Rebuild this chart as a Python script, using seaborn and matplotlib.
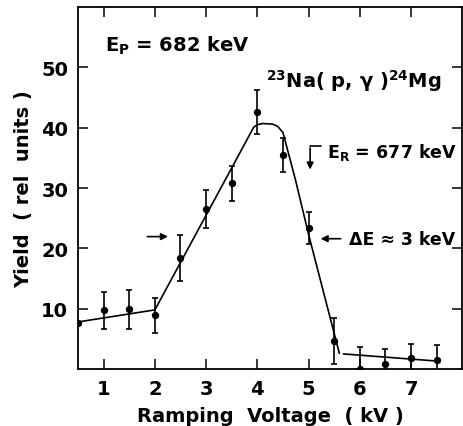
import numpy as np
import pandas as pd
import matplotlib
matplotlib.use("Agg")
import matplotlib.pyplot as plt
import seaborn as sns

# measured yield vs ramping voltage
volt = [0.5, 1.0, 1.5, 2.0, 2.5, 3.0, 3.5, 4.0, 4.5, 5.0, 5.5, 6.0, 6.5, 7.0, 7.5]
yld = [7.7, 9.7, 9.9, 8.9, 18.4, 26.5, 30.8, 42.6, 35.5, 23.4, 4.7, 0.0, 0.8, 1.8, 1.5]
yerr = [0.0, 3.0, 3.2, 2.9, 3.8, 3.2, 2.9, 3.7, 2.8, 2.7, 3.8, 3.6, 2.5, 2.4, 2.5]

# hand-drawn guide curve
fit_x = [0.5, 2.0, 3.93, 4.0, 4.1, 4.3, 4.4, 4.5, 4.74, 5.0, 5.6]
fit_y = [7.8, 9.8, 40.1, 40.5, 40.7, 40.6, 40.2, 39.2, 31.5, 22.3, 2.6]
tail_x = [5.68, 7.45]
tail_y = [2.5, 1.35]

xticks = [1, 2, 3, 4, 5, 6, 7]
yticks = [10, 20, 30, 40, 50]

sns.set_style("ticks")
plt.rcParams["font.family"] = ["DejaVu Sans"]
plt.rcParams["mathtext.fontset"] = "dejavusans"
plt.rcParams["text.color"] = "black"
plt.rcParams["axes.labelcolor"] = "black"
plt.rcParams["xtick.color"] = "black"
plt.rcParams["ytick.color"] = "black"
plt.rcParams["axes.edgecolor"] = "black"

df = pd.DataFrame({"volt": volt, "yield": yld, "err": yerr})

fig = plt.figure(figsize=(4.63, 4.27), dpi=100)
ax = fig.add_axes([0.1685, 0.1335, 0.83, 0.8475])

sns.lineplot(x=fit_x, y=fit_y, ax=ax, color="black", lw=1.2, sort=False, estimator=None)
sns.lineplot(x=tail_x, y=tail_y, ax=ax, color="black", lw=1.2, sort=False, estimator=None)
ax.errorbar(df["volt"], df["yield"], yerr=df["err"], fmt="none", ecolor="black",
            elinewidth=1.2, capsize=2.5, capthick=1.2)
sns.scatterplot(data=df, x="volt", y="yield", ax=ax, color="black", s=28,
                edgecolor="black", linewidth=0, zorder=5)

ax.set_xlim(0.5, 8.0)
ax.set_ylim(0, 60)
ax.set_xticks(xticks)
ax.set_yticks(yticks)
ax.set_xticklabels([str(t) for t in xticks], fontsize=14, fontweight="bold")
ax.set_yticklabels([str(t) for t in yticks], fontsize=14, fontweight="bold")
ax.tick_params(direction="in", length=7, width=1.1, top=True, right=True, pad=7)
for s in ax.spines.values():
    s.set_linewidth(1.3)

ax.set_xlabel("Ramping  Voltage  ( kV )", fontsize=14, fontweight="bold", labelpad=6)
ax.set_ylabel("Yield  ( rel  units )", fontsize=14, fontweight="bold", labelpad=6)

# annotations
ax.text(1.02, 52.7, r"$\mathbf{E_P}$ = 682 keV", fontsize=14, fontweight="bold", va="baseline")
ax.text(4.16, 46.8, r"$^{\mathbf{23}}$Na( p, γ )$^{\mathbf{24}}$Mg", fontsize=14,
        fontweight="bold", va="baseline")
ax.text(5.36, 35.1, r"$\mathbf{E_R}$ = 677 keV", fontsize=12.5, fontweight="bold", va="baseline")
ax.text(5.78, 21.6, "ΔE ≈ 3 keV", fontsize=12.5, fontweight="bold", va="center")

ax.plot([5.24, 5.03], [37.05, 37.05], color="black", lw=1.2)
ax.annotate("", xy=(5.03, 32.6), xytext=(5.03, 37.1),
            arrowprops=dict(arrowstyle="-|>", color="black", lw=1.2, mutation_scale=10))
ax.annotate("", xy=(2.31, 21.95), xytext=(1.80, 21.95),
            arrowprops=dict(arrowstyle="-|>", color="black", lw=1.2, mutation_scale=10))
ax.annotate("", xy=(5.18, 21.6), xytext=(5.68, 21.6),
            arrowprops=dict(arrowstyle="-|>", color="black", lw=1.2, mutation_scale=10))

fig.savefig("out.png", dpi=100)
